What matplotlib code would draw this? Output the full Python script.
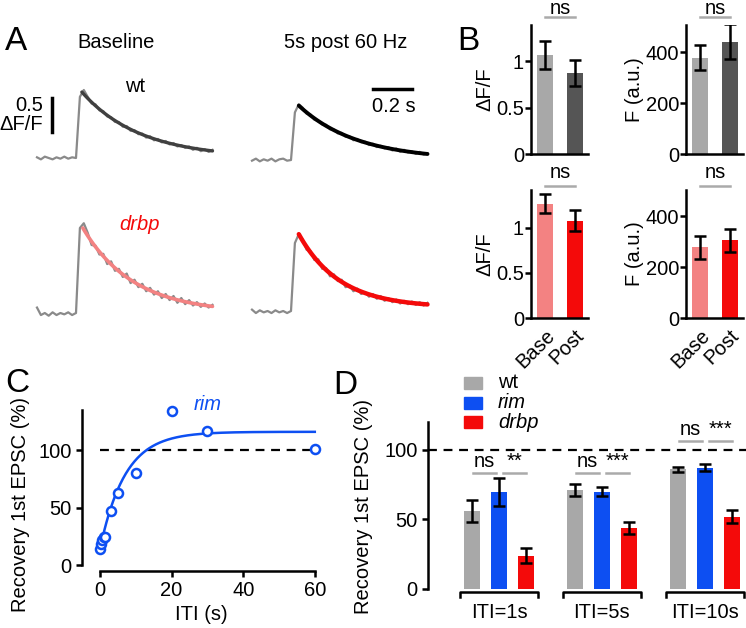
import numpy as np
import matplotlib
matplotlib.use("Agg")
import matplotlib.pyplot as plt
from matplotlib.patches import Rectangle

plt.rcParams['font.family'] = ['Liberation Sans', 'DejaVu Sans']
plt.rcParams['font.size'] = 14.5

# ------------------------------------------------------------------
# DATA

# panel A: example traces (dF/F), sampled every 20 ms over 0.9 s
dt = 0.02
trace_wt_base = [0.01, -0.02, 0.02, 0.0, -0.02, 0.01, -0.01, 0.02, -0.01, 0.01, 0.0,
                 0.90, 1.00,
                 0.90, 0.80, 0.79, 0.70, 0.69, 0.61, 0.60, 0.53, 0.53, 0.46, 0.47, 0.40,
                 0.41, 0.35, 0.36, 0.30, 0.32, 0.26, 0.28, 0.23, 0.25, 0.20, 0.22, 0.17,
                 0.19, 0.15, 0.17, 0.12, 0.15, 0.10, 0.13, 0.09, 0.12]
trace_wt_post = [-0.01, 0.02, -0.02, 0.01, -0.01, 0.02, -0.02, 0.01, 0.02, -0.01, 0.0,
                 0.70, 0.82,
                 0.77, 0.68, 0.67, 0.59, 0.58, 0.52, 0.52, 0.45, 0.45, 0.39, 0.40, 0.34,
                 0.35, 0.29, 0.31, 0.26, 0.27, 0.22, 0.24, 0.19, 0.21, 0.17, 0.19, 0.14,
                 0.17, 0.12, 0.15, 0.11, 0.13, 0.09, 0.12, 0.08, 0.10]
trace_drbp_base = [0.08, -0.03, 0.0, -0.04, 0.01, -0.03, 0.0, -0.02, 0.01, -0.03, 0.0,
                   1.25, 1.32,
                   1.18, 1.00, 0.99, 0.86, 0.87, 0.72, 0.76, 0.62, 0.65, 0.53, 0.58, 0.44,
                   0.49, 0.38, 0.43, 0.32, 0.37, 0.27, 0.32, 0.22, 0.28, 0.19, 0.25, 0.15,
                   0.22, 0.13, 0.19, 0.11, 0.16, 0.09, 0.14, 0.08, 0.12]
trace_drbp_post = [0.02, -0.03, 0.01, -0.02, 0.0, -0.03, 0.01, -0.02, 0.0, -0.03, 0.0,
                   1.00, 1.13,
                   1.05, 0.90, 0.88, 0.75, 0.76, 0.62, 0.63, 0.51, 0.54, 0.44, 0.46, 0.35,
                   0.38, 0.29, 0.33, 0.25, 0.28, 0.21, 0.25, 0.18, 0.22, 0.15, 0.19, 0.13,
                   0.17, 0.11, 0.15, 0.10, 0.14, 0.09, 0.13, 0.08, 0.12]

# exponential fits (amplitude, tau in s, offset, start time in s)
fit_wt_base = (0.97, 0.30, 0.0, 0.23)
fit_wt_post = (0.80, 0.30, 0.0, 0.24)
fit_drbp_base = (1.25, 0.26, 0.0, 0.235)
fit_drbp_post = (1.08, 0.21, 0.05, 0.24)

# panel B: peak dF/F and baseline F, baseline vs post
b_labels = ['Base', 'Post']
wt_dff = [1.07, 0.87]
wt_dff_err = [0.15, 0.14]
wt_F = [378, 440]
wt_F_err = [50, 68]
drbp_dff = [1.27, 1.08]
drbp_dff_err = [0.11, 0.12]
drbp_F = [277, 304]
drbp_F_err = [45, 45]

# panel C: rim recovery
iti_rim = [0.1, 0.2, 0.5, 1, 1.5, 3, 5, 10, 20, 30, 60]
rec_rim = [14, 18, 22, 24, 24, 47, 63, 80, 134, 117, 101]
rim_fit = (14, 116, 7.0)  # y0, plateau, tau (s)

# panel D: recovery of 1st EPSC
groups = ['ITI=1s', 'ITI=5s', 'ITI=10s']
genotypes = ['wt', 'rim', 'drbp']
rec_wt = [56, 71, 86]
rec_wt_err = [8, 4.5, 2]
rec_rim_d = [70, 70, 87]
rec_rim_err = [10, 3.5, 2.5]
rec_drbp = [24, 44, 52]
rec_drbp_err = [5.5, 4.5, 4.5]
sig_pairs = [['ns', '**'], ['ns', '***'], ['ns', '***']]

c_grey = '#a8a8a8'
c_dark = '#555555'
c_blue = '#0d4ff2'
c_red = '#f40a0a'
c_pink = '#f38282'

# ------------------------------------------------------------------
W, H = 746, 628
fig = plt.figure(figsize=(W / 100, H / 100), dpi=100)


def px_axes(x0, y0, x1, y1):
    return fig.add_axes([x0 / W, 1 - y1 / H, (x1 - x0) / W, (y1 - y0) / H])


def ftext(x, y, s, **kw):
    fig.text(x / W, 1 - y / H, s, **kw)


# panel letters
ftext(5, 42, 'A', fontsize=24, va='center')
ftext(457, 42, 'B', fontsize=24, va='center')
ftext(5, 384, 'C', fontsize=24, va='center')
ftext(333, 386, 'D', fontsize=24, va='center')

# ------------------------------------------------------------------
# A: traces
axA = px_axes(20, 60, 440, 340)
sx, sy = 195.0, 68.0  # px per s, px per dF/F
axA.set_xlim(0, 420 / sx)
axA.set_ylim(0, 280 / sy)
axA.axis('off')

t = np.arange(len(trace_wt_base)) * dt


def draw_trace(vals, fit, x0_px, y0_px, fit_color, fit_lw):
    x0 = (x0_px - 20) / sx
    y0 = (340 - y0_px) / sy
    axA.plot(t + x0, np.array(vals) + y0, color='#8a8a8a', lw=1.6, zorder=2)
    a, tau, c, ts = fit
    tf = np.linspace(ts, t[-1], 100)
    axA.plot(tf + x0, a * np.exp(-(tf - ts) / tau) + c + y0,
             color=fit_color, lw=fit_lw, zorder=3, solid_capstyle='round')


draw_trace(trace_wt_base, fit_wt_base, 37, 158, '#404040', 2.4)
draw_trace(trace_wt_post, fit_wt_post, 252, 160, 'black', 2.8)
draw_trace(trace_drbp_base, fit_drbp_base, 37, 313, c_pink, 2.6)
draw_trace(trace_drbp_post, fit_drbp_post, 252, 311, c_red, 3.2)

# scale bars
xb = (52 - 20) / sx
axA.plot([xb, xb], [(340 - 132) / sy, (340 - 132) / sy + 0.5], color='black', lw=2.5)
yb = (340 - 89) / sy
axA.plot([(373 - 20) / sx, (373 - 20) / sx + 0.2], [yb, yb], color='black', lw=2.5)
ftext(21, 115, '0.5\n\u0394F/F', ha='center', va='center', linespacing=1.0,
      multialignment='right')
ftext(394, 107, '0.2 s', ha='center', va='center')

ftext(116, 43, 'Baseline', ha='center', va='center')
ftext(346, 43, '5s post 60 Hz', ha='center', va='center')
ftext(135, 86, 'wt', ha='center', va='center')
ftext(140, 225, 'drbp', ha='center', va='center', color=c_red, style='italic')

# ------------------------------------------------------------------
# B: bar plots


def bar_panel(rect, vals, errs, colors, ylim, yticks, yticklabels, ylabel,
              ns_line_y, ns_text_y, show_x):
    ax = px_axes(*rect)
    x = np.arange(len(vals))
    ax.bar(x, vals, width=0.55, color=colors, zorder=1)
    ax.errorbar(x, vals, yerr=errs, fmt='none', ecolor='black', elinewidth=1.8,
                capsize=4.5, capthick=1.8, zorder=2)
    ax.set_xlim(-0.48, 1.45)
    ax.set_ylim(*ylim)
    ax.set_yticks(yticks)
    ax.set_yticklabels(yticklabels)
    for s in ['top', 'right']:
        ax.spines[s].set_visible(False)
    for s in ['left', 'bottom']:
        ax.spines[s].set_linewidth(1.8)
    ax.tick_params(axis='y', length=4, width=1.8, pad=1)
    if show_x:
        ax.set_xticks(x)
        ax.set_xticklabels(b_labels, rotation=45, ha='right', rotation_mode='anchor')
        ax.tick_params(axis='x', length=0, pad=6)
    else:
        ax.set_xticks([])
    ax.set_ylabel(ylabel, labelpad=1)
    tr = ax.get_xaxis_transform()
    ax.plot([0, 1], [ns_line_y, ns_line_y], color='#aaaaaa', lw=1.8,
            transform=tr, clip_on=False)
    ax.text(0.5, ns_text_y, 'ns', transform=tr, ha='center', va='center')
    return ax


bar_panel((531, 25, 588, 154), wt_dff, wt_dff_err, [c_grey, c_dark],
          (0, 1.39), [0, 0.5, 1], ['0', '0.5', '1'], '\u0394F/F', 1.06, 1.13, False)
bar_panel((686, 25, 743, 154), wt_F, wt_F_err, [c_grey, c_dark],
          (0, 506), [0, 200, 400], ['0', '200', '400'], 'F (a.u.)', 1.06, 1.13, False)
bar_panel((531, 190, 588, 318), drbp_dff, drbp_dff_err, [c_pink, c_red],
          (0, 1.42), [0, 0.5, 1], ['0', '0.5', '1'], '\u0394F/F', 1.03, 1.14, True)
bar_panel((686, 190, 743, 318), drbp_F, drbp_F_err, [c_pink, c_red],
          (0, 502), [0, 200, 400], ['0', '200', '400'], 'F (a.u.)', 1.03, 1.14, True)

# ------------------------------------------------------------------
# C: recovery time course for rim
axC = px_axes(82, 410, 320, 571)
axC.set_xlim((82 - 100) / 3.58, (320 - 100) / 3.58)
axC.set_ylim((565 - 571) / 1.15, 135)
axC.plot([0, 60], [100, 100], color='black', lw=1.6, ls=(0, (4, 3)))
y0, ymax, tau = rim_fit
tf = np.linspace(0, 60, 300)
axC.plot(tf, ymax - (ymax - y0) * np.exp(-tf / tau), color=c_blue, lw=1.8)
axC.plot(iti_rim, rec_rim, 'o', mfc='white', mec=c_blue, mew=1.8, ms=6.5, clip_on=False)
axC.text(30, 140, 'rim', color=c_blue, style='italic', ha='center', va='center')
axC.set_xticks([0, 20, 40, 60])
axC.set_yticks([0, 50, 100])
for s in ['top', 'right']:
    axC.spines[s].set_visible(False)
for s in ['left', 'bottom']:
    axC.spines[s].set_linewidth(1.8)
axC.spines['left'].set_bounds(0, 135)
axC.spines['bottom'].set_bounds(0, 60)
axC.tick_params(length=4, width=1.8)
axC.set_xlabel('ITI (s)', labelpad=3)
axC.set_ylabel('Recovery 1st EPSC (%)')
axC.yaxis.set_label_coords((30 - 82) / 238, (571 - 505) / 161)

# ------------------------------------------------------------------
# D: recovery of first EPSC per ITI
axD = px_axes(428, 422, 746, 589)
axD.set_xlim(-0.69, 2.40)
axD.set_ylim(0, 120)
gx = np.arange(len(groups))
off = 0.262
bw = 0.155
series = [(rec_wt, rec_wt_err, c_grey), (rec_rim_d, rec_rim_err, c_blue),
          (rec_drbp, rec_drbp_err, c_red)]
for k, (vals, errs, col) in enumerate(series):
    xs = gx + (k - 1) * off
    axD.bar(xs, vals, width=bw, color=col, zorder=1)
    axD.errorbar(xs, vals, yerr=errs, fmt='none', ecolor='black', elinewidth=1.8,
                 capsize=4.5, capthick=1.8, zorder=2)
axD.axhline(100, color='black', lw=1.6, ls=(0, (4, 3)), zorder=0)
for i, g in enumerate(gx):
    axD.plot([g - 0.38, g - 0.38, g + 0.38, g + 0.38], [-6, -2.5, -2.5, -6],
             color='black', lw=1.8, clip_on=False)
    axD.text(g, -17, groups[i], ha='center', va='center')
    ly = 106 if i == 2 else 83
    for j in range(2):
        xa = g - off + 0.01 if j == 0 else g + 0.04
        xb2 = g - 0.03 if j == 0 else g + off
        axD.plot([xa, xb2], [ly, ly], color='#aaaaaa', lw=1.8, clip_on=False)
        axD.text((xa + xb2) / 2, ly + 8.5, sig_pairs[i][j], ha='center', va='center')
axD.set_xticks([])
axD.set_yticks([0, 50, 100])
for s in ['top', 'right', 'bottom']:
    axD.spines[s].set_visible(False)
axD.spines['left'].set_linewidth(1.8)
axD.spines['left'].set_bounds(0, 120)
axD.tick_params(axis='y', length=4, width=1.8)
axD.set_ylabel('Recovery 1st EPSC (%)')
axD.yaxis.set_label_coords((373 - 428) / 318, (589 - 507) / 167)

# legend drawn by hand
for i, (name, col) in enumerate(zip(genotypes, [c_grey, c_blue, c_red])):
    yc = 383 + i * 19.5
    fig.patches.append(Rectangle((464 / W, 1 - (yc + 6) / H), 18 / W, 12 / H,
                                 transform=fig.transFigure, color=col))
    ftext(498, yc, name, va='center', style='normal' if i == 0 else 'italic')

fig.savefig('out.png', dpi=100)
